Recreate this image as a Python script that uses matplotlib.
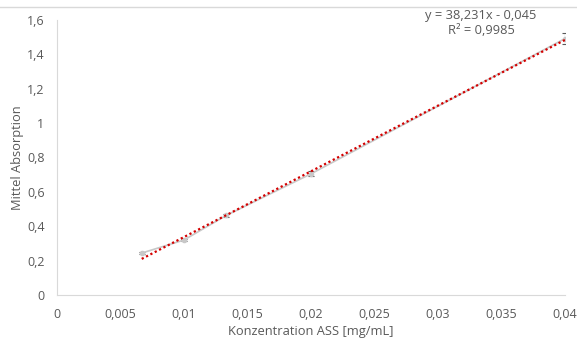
import matplotlib
matplotlib.use("Agg")
import matplotlib.pyplot as plt
from matplotlib.lines import Line2D
from matplotlib.ticker import FuncFormatter

konz = [0.00667, 0.01, 0.01333, 0.02, 0.04]
absorption = [0.244, 0.32, 0.463, 0.705, 1.492]
fehler = [0.008, 0.008, 0.008, 0.015, 0.032]

# lineare Trendlinie
steigung = 38.231
achse = -0.045
r2 = 0.9985

grau = "#595959"
plt.rcParams["font.family"] = ["Open Sans", "DejaVu Sans"]
plt.rcParams["font.size"] = 8

fig = plt.figure(figsize=(5.77, 3.42), dpi=100)
ax = fig.add_axes([57 / 577, 47 / 342, 508 / 577, 275 / 342])

ax.errorbar(konz, absorption, yerr=fehler, color="#c8c8c8", lw=1.2,
            marker="o", ms=3, mfc="#c8c8c8", mec="#c8c8c8",
            ecolor="#595959", elinewidth=0.8, capsize=2, capthick=0.8, zorder=2)

x_fit = [konz[0], konz[-1]]
y_fit = [steigung * x + achse for x in x_fit]
ax.plot(x_fit, y_fit, color="#d40000", lw=1.6, ls=(0, (1, 1.2)), zorder=3)

ax.set_xlim(0, 0.04)
ax.set_ylim(0, 1.6)
ax.set_xticks([i * 0.005 for i in range(9)])
ax.set_yticks([i * 0.2 for i in range(9)])


def komma(v, pos):
    s = f"{v:.3f}".rstrip("0").rstrip(".")
    return s.replace(".", ",")


ax.xaxis.set_major_formatter(FuncFormatter(komma))
ax.yaxis.set_major_formatter(FuncFormatter(komma))
ax.tick_params(length=0, colors=grau, labelsize=9, pad=9)
for s in ["top", "right"]:
    ax.spines[s].set_visible(False)
for s in ["left", "bottom"]:
    ax.spines[s].set_color("#d9d9d9")

ax.set_xlabel("Konzentration ASS [mg/mL]", color=grau, fontsize=9.3, labelpad=3)
ax.set_ylabel("Mittel Absorption", color=grau, fontsize=9.3, labelpad=2)

fig.text(481 / 577, 1 - 15 / 342, f"y = {steigung:.3f}x - {abs(achse):.3f}".replace(".", ","),
         ha="center", va="center", color=grau, fontsize=9.3)
fig.text(481 / 577, 1 - 31 / 342, f"R² = {r2:.4f}".replace(".", ","),
         ha="center", va="center", color=grau, fontsize=9.3)

fig.add_artist(Line2D([0, 1], [1 - 7 / 342, 1 - 7 / 342], color="#d9d9d9", lw=1,
                      transform=fig.transFigure))

fig.savefig("out.png", dpi=100)
